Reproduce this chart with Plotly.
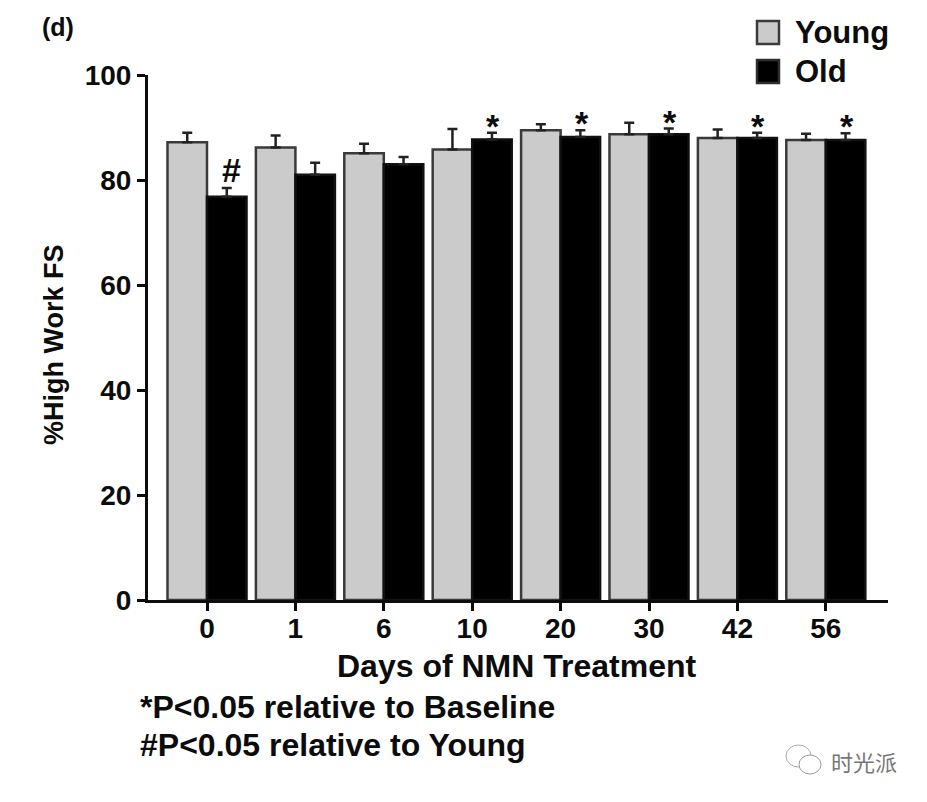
import plotly.graph_objects as go

days = ["0", "1", "6", "10", "20", "30", "42", "56"]
young = [87.2, 86.2, 85.1, 85.8, 89.5, 88.7, 88.0, 87.6]
young_top = [89.0, 88.5, 86.9, 89.7, 90.6, 90.9, 89.6, 88.8]
old = [76.8, 81.0, 83.0, 87.7, 88.2, 88.7, 88.0, 87.6]
old_top = [78.5, 83.3, 84.4, 89.0, 89.5, 89.8, 89.0, 88.9]
marks = ["#", "", "", "*", "*", "*", "*", "*"]
y_ticks = [0, 20, 40, 60, 80, 100]

FONT = "Liberation Sans"
INK = "#0c0c0c"
GREY = "#cbcbcb"
W, H = 927, 802
L, R, T, B = 148, 888, 75, 600

fig = go.Figure()
for name, vals, tops, fill, edge in [("Young", young, young_top, GREY, "#3a3a3a"),
                                     ("Old", old, old_top, "#000000", "#111111")]:
    fig.add_trace(go.Bar(
        x=days, y=vals, name=name, offsetgroup=name,
        marker=dict(color=fill, line=dict(color=edge, width=2.5)),
        error_y=dict(type="data", symmetric=False,
                     array=[t - v for t, v in zip(tops, vals)],
                     arrayminus=[0] * len(vals),
                     color="#222222", thickness=2.5, width=5),
        showlegend=False,
    ))

annotations = []
# significance marks sit above the Old error bars
for i, (m, t) in enumerate(zip(marks, old_top)):
    if m:
        annotations.append(dict(
            x=i, y=t, xref="x", yref="y", text=m, showarrow=False,
            xshift=21 if m == "*" else 24,
            yanchor="bottom", yshift=-14 if m == "*" else -3,
            font=dict(family=FONT, size=34, color=INK, weight="bold")))

def fx(px):
    return (px - L) / (R - L)

def fy(py):
    return (B - py) / (B - T)

def text(px, py, s, size, xanchor="left", family=FONT, color=INK, bold=True, angle=0):
    annotations.append(dict(
        x=fx(px), y=fy(py), xref="paper", yref="paper", textangle=angle,
        text=s, showarrow=False, xanchor=xanchor, yanchor="middle",
        xshift=-1 if xanchor == "left" else 0,
        font=dict(family=family, size=size, color=color, weight="bold" if bold else "normal")))

text(41, 27, "(d)", 25)
text(794, 33, "Young", 31)
text(794, 72, "Old", 31)
text(139, 707, "*P&lt;0.05 relative to Baseline", 32)
text(139, 745, "#P&lt;0.05 relative to Young", 32)
text(54, 345, "%High Work FS", 27, xanchor="center", angle=-90)
text(517, 666, "Days of NMN Treatment", 32, xanchor="center")
text(830, 761, "时光派", 22, family="Noto Sans CJK SC", color="#777777", bold=False)

shapes = [
    dict(type="rect", xref="paper", yref="paper", x0=fx(757), x1=fx(779), y0=fy(44), y1=fy(21),
         fillcolor=GREY, line=dict(color="#3a3a3a", width=2.5)),
    dict(type="rect", xref="paper", yref="paper", x0=fx(757), x1=fx(779), y0=fy(83), y1=fy(60),
         fillcolor="#000000", line=dict(color="#2e2e2e", width=2.5)),
    dict(type="circle", xref="paper", yref="paper", x0=fx(786), x1=fx(811), y0=fy(767), y1=fy(745),
         fillcolor="white", line=dict(color="#aaaaaa", width=1)),
    dict(type="circle", xref="paper", yref="paper", x0=fx(799), x1=fx(821), y0=fy(774), y1=fy(755),
         fillcolor="white", line=dict(color="#999999", width=1)),
]

left = (207 - L) / 88.4
right = (R - 207) / 88.4
fig.update_layout(
    width=W, height=H,
    margin=dict(l=L, r=W - R, t=T, b=H - B, pad=0),
    paper_bgcolor="white", plot_bgcolor="white",
    barmode="group", bargap=0.106, bargroupgap=0,
    font=dict(family=FONT, color=INK),
    xaxis=dict(type="category", categoryorder="array", categoryarray=days,
               range=[-left, right], showline=True, linecolor=INK, linewidth=3,
               ticks="outside", ticklen=8, tickwidth=3, tickcolor=INK, ticklabelstandoff=-7,
               tickfont=dict(size=28, family=FONT, weight="bold", color=INK),
               showgrid=False, zeroline=False),
    yaxis=dict(range=[0, 100], tickvals=y_ticks, showline=True, linecolor=INK, linewidth=3,
               ticks="outside", ticklen=8, tickwidth=3, tickcolor=INK,
               tickfont=dict(size=28, family=FONT, weight="bold", color=INK),
               showgrid=False, zeroline=False),
    annotations=annotations, shapes=shapes,
)
fig.write_html("out.html", config=dict(displayModeBar=False),
               post_script="document.body.style.margin='0';")
